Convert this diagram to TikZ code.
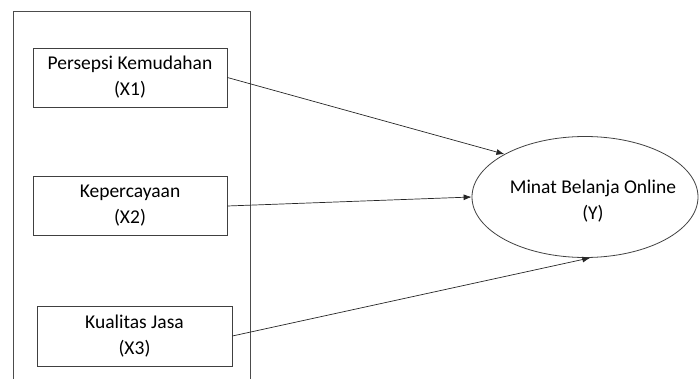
\documentclass[tikz,border=0pt]{standalone}
\usepackage{fontspec}
\setmainfont{Carlito}
\usepackage{tikz}
\usetikzlibrary{arrows.meta,positioning,shapes.geometric}

\begin{document}
\begin{tikzpicture}[
  x=1pt,y=-1pt,
  font=\fontsize{19.5}{26}\selectfont,
  var/.style={draw=black!75,line width=0.8pt,align=center,inner sep=0pt,minimum width=194pt,minimum height=59pt},
  dep/.style={ellipse,draw=black!75,line width=0.8pt,align=center,inner sep=0pt,minimum width=226pt,minimum height=121pt},
  frm/.style={draw=black!70,line width=0.9pt},
  arr/.style={-{Latex[length=8pt,width=6pt]},draw=black!85,line width=0.7pt},
]
\useasboundingbox (0,0) rectangle (699,379);
\draw[frm] (13,379) |- (250,11) -- (250,379);
\node[var] (x1) at (130,77.5) {Persepsi Kemudahan\\(X1)};
\node[var] (x2) at (130,206) {Kepercayaan\\(X2)};
\node[var,minimum width=195pt,minimum height=60pt] (x3) at (134.5,336) {Kualitas Jasa\\(X3)};
\node[dep] (y) at (585,197) {};
\node[align=center,inner sep=0pt] (ylab) at (593,201) {Minat Belanja Online\\(Y)};
\draw[arr] (x1.east) -- (y.152);
\draw[arr] (x2.east) -- (y.180);
\draw[arr] (x3.east) -- (y.275);
\end{tikzpicture}
\end{document}
